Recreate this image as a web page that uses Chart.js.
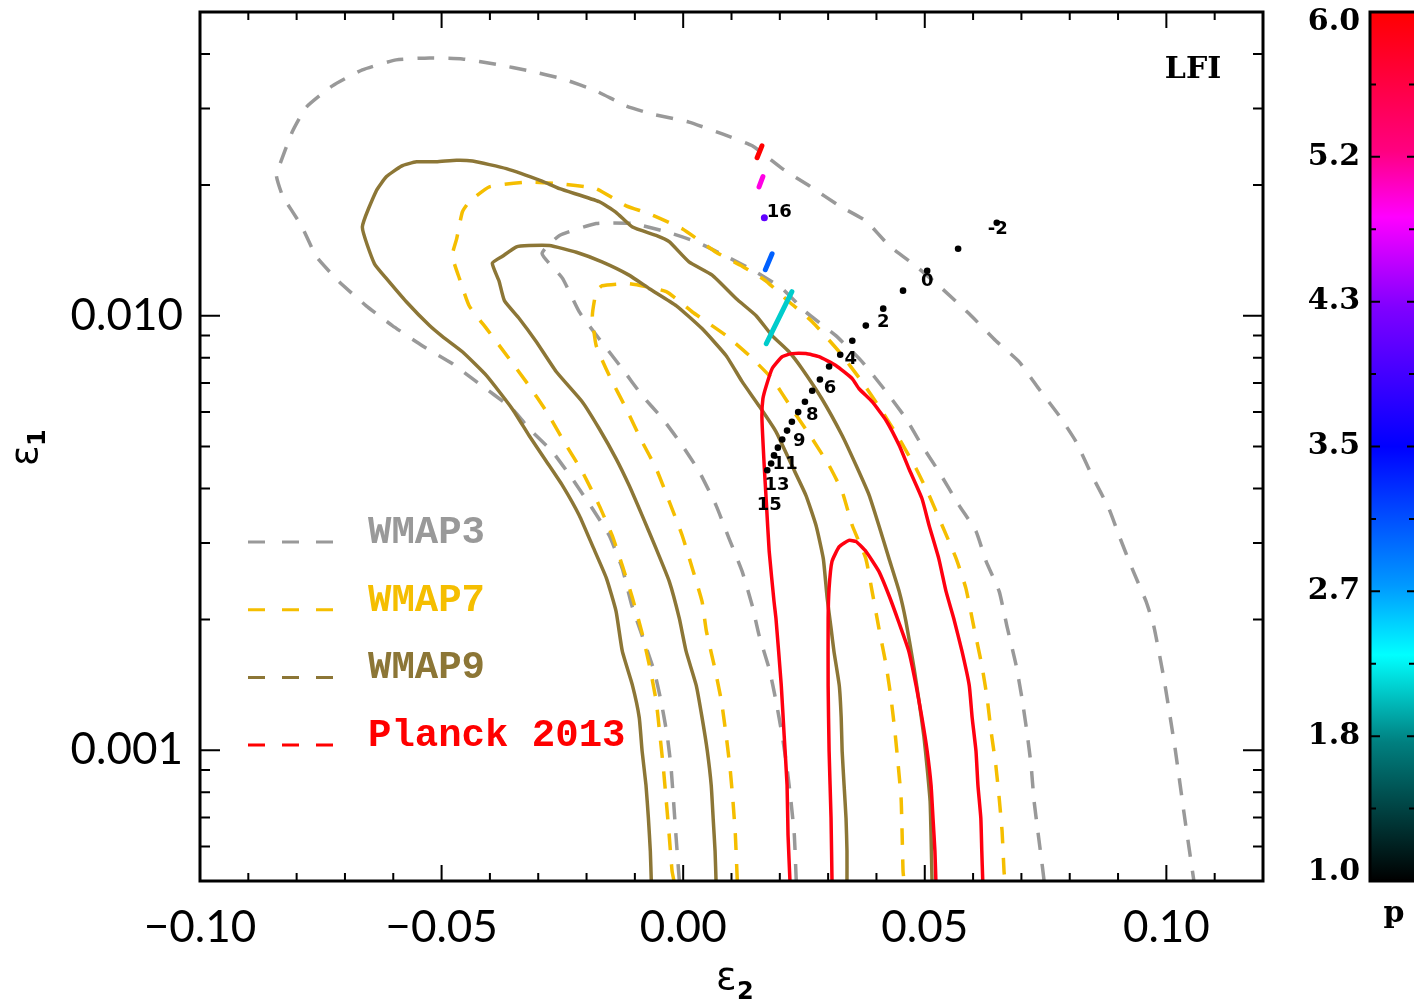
<!DOCTYPE html>
<html>
<head>
<meta charset="utf-8">
<script src="https://cdn.jsdelivr.net/npm/chart.js@4.4.1/dist/chart.umd.min.js"></script>
<style>
  html, body { margin: 0; padding: 0; background: #fff; }
  #wrap { width: 1414px; height: 1002px; }
</style>
</head>
<body>
<div id="wrap"><canvas id="c" width="1414" height="1002"></canvas></div>
<script>
// contour lines, [eps2, eps1]
const wmap3Outer = [[-0.0008,0.0005],[-0.0015,0.000638],[-0.0025,0.000909],[-0.0033,0.00108],[-0.0046,0.0013],[-0.006,0.00152],[-0.0106,0.00215],[-0.0126,0.00262],[-0.0153,0.00312],[-0.0188,0.0036],[-0.023,0.00422],[-0.0271,0.00487],[-0.0319,0.0055],[-0.0354,0.00611],[-0.0428,0.00705],[-0.0478,0.00776],[-0.054,0.00853],[-0.0602,0.00949],[-0.0656,0.01054],[-0.0712,0.01197],[-0.0759,0.01367],[-0.079,0.0161],[-0.0829,0.01887],[-0.0842,0.021],[-0.0836,0.0221],[-0.0809,0.0265],[-0.078,0.0302],[-0.0726,0.0338],[-0.0664,0.0368],[-0.0594,0.0388],[-0.0525,0.0392],[-0.0457,0.039],[-0.0387,0.0379],[-0.0319,0.0366],[-0.025,0.0351],[-0.018,0.0329],[-0.0118,0.0304],[-0.0064,0.0291],[0.0012,0.0279],[0.0081,0.0262],[0.0143,0.0246],[0.0205,0.0218],[0.0261,0.0199],[0.0323,0.0179],[0.0379,0.0165],[0.0426,0.0145],[0.0482,0.013],[0.0536,0.01154],[0.0592,0.0101],[0.0647,0.00876],[0.0695,0.00784],[0.0736,0.00679],[0.0778,0.00589],[0.0813,0.00513],[0.0846,0.00429],[0.0881,0.0036],[0.0902,0.00312],[0.0929,0.00262],[0.0958,0.0022],[0.0974,0.00193],[0.0995,0.00146],[0.1018,0.00101],[0.1038,0.000698],[0.1057,0.0005]];
const wmap3Inner = [[0.0234,0.0005],[0.023,0.000638],[0.0223,0.000764],[0.0215,0.000909],[0.0205,0.00108],[0.0192,0.0013],[0.0178,0.00154],[0.0157,0.00184],[0.0143,0.00215],[0.0122,0.00258],[0.0095,0.00307],[0.0068,0.00366],[0.0033,0.00438],[-0.0002,0.00503],[-0.0043,0.0058],[-0.0085,0.00655],[-0.0126,0.00755],[-0.0174,0.00885],[-0.0215,0.0102],[-0.025,0.0122],[-0.0292,0.0139],[-0.0256,0.0153],[-0.018,0.0163],[-0.0105,0.0163],[-0.0035,0.0156],[0.0027,0.0148],[0.0089,0.0137],[0.0151,0.0126],[0.0205,0.01154],[0.0254,0.0102],[0.0316,0.009],[0.037,0.00784],[0.042,0.00669],[0.0461,0.0058],[0.0494,0.00503],[0.0529,0.00438],[0.0571,0.00366],[0.0606,0.00319],[0.0627,0.00272],[0.0654,0.00232],[0.067,0.00193],[0.0689,0.00157],[0.0701,0.00132],[0.0711,0.00111],[0.072,0.000924],[0.0726,0.000767],[0.0734,0.000651],[0.0743,0.000544],[0.0747,0.0005]];
const wmap7Outer = [[-0.0019,0.0005],[-0.0023,0.000527],[-0.0029,0.000638],[-0.0035,0.000764],[-0.0041,0.000909],[-0.0048,0.00108],[-0.0056,0.0013],[-0.007,0.00157],[-0.0085,0.00186],[-0.0105,0.00224],[-0.0126,0.00266],[-0.0147,0.00312],[-0.0174,0.00366],[-0.0209,0.00438],[-0.0242,0.00503],[-0.0283,0.00602],[-0.0319,0.0069],[-0.036,0.00796],[-0.0407,0.00934],[-0.0443,0.01054],[-0.0463,0.01217],[-0.0478,0.01374],[-0.0469,0.015],[-0.0457,0.01734],[-0.0443,0.01828],[-0.0401,0.0198],[-0.0325,0.0203],[-0.025,0.0201],[-0.018,0.0196],[-0.0118,0.0179],[-0.007,0.01716],[-0.0002,0.01585],[0.0068,0.014],[0.0122,0.013],[0.0172,0.012],[0.0219,0.01077],[0.0267,0.00969],[0.0323,0.00826],[0.037,0.00705],[0.0412,0.00602],[0.0447,0.00521],[0.0482,0.00445],[0.0509,0.00386],[0.0536,0.00329],[0.0565,0.00276],[0.0585,0.00236],[0.0602,0.00191],[0.0618,0.00157],[0.0629,0.00132],[0.0637,0.00111],[0.0647,0.000924],[0.0654,0.000776],[0.066,0.000651],[0.0664,0.000527],[0.0666,0.0005]];
const wmap7Inner = [[0.0112,0.0005],[0.0108,0.000638],[0.0103,0.000764],[0.0097,0.000909],[0.0089,0.00108],[0.0079,0.0013],[0.0064,0.00157],[0.0048,0.00188],[0.0039,0.0022],[0.0019,0.00262],[-0.0002,0.00312],[-0.0029,0.00374],[-0.0056,0.00445],[-0.0085,0.00513],[-0.0118,0.00611],[-0.0153,0.00728],[-0.018,0.00853],[-0.0188,0.01],[-0.018,0.01136],[-0.0168,0.01172],[-0.0112,0.01185],[-0.0035,0.01136],[0.0019,0.0102],[0.0089,0.009],[0.0137,0.00809],[0.0184,0.00716],[0.0225,0.00611],[0.0267,0.00521],[0.0302,0.00452],[0.0329,0.00394],[0.035,0.00329],[0.0378,0.00276],[0.0391,0.00232],[0.0405,0.00191],[0.042,0.00157],[0.043,0.00132],[0.0438,0.00111],[0.0445,0.000924],[0.0451,0.000776],[0.0453,0.000651],[0.0455,0.000527],[0.0457,0.0005]];
const wmap9Outer = [[-0.0066,0.0005],[-0.0068,0.000586],[-0.0072,0.000698],[-0.0077,0.000831],[-0.0085,0.000995],[-0.0091,0.00119],[-0.0105,0.00141],[-0.0126,0.00169],[-0.0139,0.00209],[-0.0159,0.00249],[-0.0188,0.00296],[-0.0215,0.00347],[-0.025,0.00407],[-0.0283,0.00462],[-0.0319,0.0053],[-0.0354,0.00611],[-0.0407,0.00728],[-0.0457,0.00826],[-0.0498,0.00895],[-0.0525,0.00949],[-0.0573,0.01077],[-0.0614,0.01217],[-0.0639,0.01317],[-0.0664,0.016],[-0.0635,0.0194],[-0.0614,0.0209],[-0.0583,0.0221],[-0.0552,0.0226],[-0.0511,0.0226],[-0.0469,0.0228],[-0.0436,0.0227],[-0.0366,0.0218],[-0.0292,0.0204],[-0.0256,0.0196],[-0.0174,0.0183],[-0.0139,0.0173],[-0.0105,0.016],[-0.0056,0.0153],[-0.0029,0.0148],[0.0012,0.0133],[0.006,0.0124],[0.011,0.01094],[0.0151,0.01],[0.0184,0.009],[0.0219,0.00826],[0.0246,0.00755],[0.0287,0.00644],[0.0329,0.0053],[0.0358,0.00452],[0.0385,0.00386],[0.0405,0.00329],[0.0426,0.00276],[0.0447,0.00232],[0.0461,0.00198],[0.0478,0.00154],[0.0488,0.0013],[0.0498,0.00108],[0.0505,0.000909],[0.0511,0.000764],[0.0513,0.000638],[0.0515,0.0005]];
const wmap9Inner = [[0.0068,0.0005],[0.0066,0.000586],[0.0062,0.000698],[0.0058,0.000831],[0.005,0.000995],[0.0039,0.00119],[0.0027,0.00141],[0.0006,0.00169],[-0.0008,0.00201],[-0.0029,0.00245],[-0.0056,0.00291],[-0.0085,0.00347],[-0.0112,0.00407],[-0.0139,0.00469],[-0.0174,0.0055],[-0.0209,0.00634],[-0.0263,0.00744],[-0.0304,0.00871],[-0.0339,0.00984],[-0.037,0.01083],[-0.0381,0.012],[-0.0395,0.0132],[-0.0374,0.0137],[-0.0345,0.0144],[-0.0319,0.0145],[-0.0277,0.0145],[-0.0221,0.014],[-0.0168,0.0133],[-0.0112,0.0124],[-0.007,0.01154],[-0.0014,0.01054],[0.0039,0.00934],[0.0089,0.00809],[0.0122,0.00705],[0.0157,0.0062],[0.0192,0.00541],[0.0225,0.00452],[0.0254,0.00386],[0.0275,0.00329],[0.029,0.00276],[0.0298,0.00224],[0.0306,0.00191],[0.0312,0.00169],[0.0323,0.00141],[0.0327,0.00119],[0.0329,0.000995],[0.0333,0.000831],[0.0337,0.000698],[0.0339,0.000586],[0.0339,0.0005]];
const planckOuter = [[0.0221,0.0005],[0.0217,0.000638],[0.0215,0.000831],[0.0209,0.00108],[0.0203,0.00141],[0.0192,0.00201],[0.0188,0.0022],[0.0178,0.00287],[0.0172,0.00374],[0.0168,0.00445],[0.0163,0.0058],[0.0165,0.00644],[0.0172,0.0069],[0.0184,0.00755],[0.0205,0.00805],[0.0225,0.00818],[0.0254,0.00818],[0.0281,0.00805],[0.0316,0.00768],[0.035,0.00716],[0.0364,0.00679],[0.0391,0.00634],[0.042,0.00574],[0.0447,0.00503],[0.0467,0.00445],[0.0494,0.0038],[0.0509,0.00329],[0.0529,0.00276],[0.0544,0.00232],[0.056,0.00201],[0.0577,0.00169],[0.0592,0.00141],[0.0598,0.00119],[0.0606,0.000995],[0.061,0.000831],[0.0616,0.000698],[0.0618,0.000586],[0.062,0.0005]];
const planckInner = [[0.0308,0.0005],[0.0306,0.000698],[0.0302,0.000995],[0.03,0.00141],[0.03,0.00201],[0.0302,0.00236],[0.0308,0.00272],[0.0323,0.00294],[0.0343,0.00304],[0.0358,0.00302],[0.0378,0.00287],[0.0405,0.00258],[0.0426,0.00227],[0.0447,0.00196],[0.0467,0.00169],[0.0482,0.00141],[0.0494,0.00119],[0.0505,0.000995],[0.0513,0.000831],[0.0517,0.000698],[0.0521,0.000586],[0.0523,0.0005]];

// black model points and their labels
const seqX = [0.0649,0.0569,0.0505,0.0455,0.0414,0.0378,0.035,0.0325,0.0302,0.0283,0.0267,0.0252,0.0238,0.0225,0.0215,0.0205,0.0196,0.0188,0.0182,0.0174];
const seqY = [0.01636,0.01426,0.01269,0.01142,0.01038,0.00949,0.00876,0.00813,0.00764,0.00713,0.00672,0.00634,0.006,0.0057,0.00544,0.00519,0.00497,0.00477,0.00457,0.00441];
const seqLabels = ['-2','0','2','4','6','8','9','11','13','15','16'];
const seqLabelX = [0.0651,0.0505,0.0414,0.0347,0.0304,0.0267,0.024,0.0211,0.0194,0.0178,0.0199];
const seqLabelY = [0.01577,0.01197,0.00964,0.00792,0.00679,0.00589,0.00513,0.00455,0.00407,0.00366,0.01725];

// coloured tracks, one per p
const pValues = [6.0, 4.9, 4.1, 3.0, 2.1];
const pSegX = [[0.0153,0.0163],[0.0157,0.0165],[0.0168],[0.017,0.0184],[0.0172,0.0225]];
const pSegY = [[0.0231,0.0246],[0.0198,0.0209],[0.0168],[0.01276,0.01388],[0.00862,0.01136]];

// colour table for p
const cmapP = [1.0, 1.8, 2.3, 2.7, 3.5, 4.3, 4.82, 5.2, 6.0];
const cmapRGB = [[0,0,0],[0,128,128],[0,255,255],[0,153,255],[0,0,255],[128,0,255],[255,0,255],[255,0,128],[255,0,0]];
const cbarTicks = [1.0, 1.8333, 2.6667, 3.5, 4.3333, 5.1667, 6.0];
const cbarText = ['1.0','1.8','2.7','3.5','4.3','5.2','6.0'];

// axes
const xLabelTicks = [-0.10, -0.05, 0.0, 0.05, 0.10];
const xTickText = ['\u22120.10', '\u22120.05', '0.00', '0.05', '0.10'];
const xMinorTicks = [-0.09,-0.08,-0.07,-0.06,-0.04,-0.03,-0.02,-0.01,0.01,0.02,0.03,0.04,0.06,0.07,0.08,0.09,0.11];
const yLabelTicks = [0.001, 0.01];
const yTickText = ['0.001', '0.010'];
const yMinorTicks = [0.0006,0.0007,0.0008,0.0009,0.002,0.003,0.004,0.005,0.006,0.007,0.008,0.009,0.02,0.03,0.04];

const legendNames = ['WMAP3', 'WMAP7', 'WMAP9', 'Planck 2013'];
const legendColors = ['#999999', '#f5be00', '#8c7636', '#ff0000'];

function pColor(p) {
  for (var i = 0; i < cmapP.length - 1; i++) {
    if (p <= cmapP[i + 1]) {
      var t = (p - cmapP[i]) / (cmapP[i + 1] - cmapP[i]);
      var a = cmapRGB[i], b = cmapRGB[i + 1];
      return 'rgb(' + [0, 1, 2].map(k => Math.round(a[k] + (b[k] - a[k]) * t)).join(',') + ')';
    }
  }
  return 'rgb(' + cmapRGB[cmapRGB.length - 1].join(',') + ')';
}

function toPts(arr) { return arr.map(p => ({x: p[0], y: p[1]})); }

function contour(data, color, dashed) {
  return {
    data: toPts(data), showLine: true, pointRadius: 0, borderColor: color,
    borderWidth: 3.5, borderDash: dashed ? [17, 14] : [], tension: 0.15, fill: false
  };
}

var datasets = [];
datasets.push({
  data: seqX.map((x, i) => ({x: x, y: seqY[i]})), showLine: false,
  pointRadius: 3.3, pointBackgroundColor: '#000', pointBorderWidth: 0
});
pValues.forEach((p, i) => {
  datasets.push({
    data: pSegX[i].map((x, j) => ({x: x, y: pSegY[i][j]})), showLine: true,
    borderColor: pColor(p), borderWidth: 5, borderCapStyle: 'round',
    pointRadius: pSegX[i].length == 1 ? 3.5 : 0, pointBackgroundColor: pColor(p), pointBorderWidth: 0
  });
});
datasets.push(contour(planckInner, '#ff0010', false));
datasets.push(contour(planckOuter, '#ff0010', false));
datasets.push(contour(wmap9Inner, '#8c7636', false));
datasets.push(contour(wmap9Outer, '#8c7636', false));
datasets.push(contour(wmap7Inner, '#f5be00', true));
datasets.push(contour(wmap7Outer, '#f5be00', true));
datasets.push(contour(wmap3Inner, '#999999', true));
datasets.push(contour(wmap3Outer, '#999999', true));

const framePlugin = {
  id: 'frame',
  afterDraw(chart) {
    var ctx = chart.ctx, a = chart.chartArea;
    var xs = chart.scales.x, ys = chart.scales.y;
    ctx.save();

    // box and inward ticks on all four sides
    ctx.strokeStyle = '#000';
    ctx.lineWidth = 2;
    ctx.beginPath();
    function xt(v, len) {
      var px = xs.getPixelForValue(v);
      ctx.moveTo(px, a.bottom); ctx.lineTo(px, a.bottom - len);
      ctx.moveTo(px, a.top); ctx.lineTo(px, a.top + len);
    }
    function yt(v, len) {
      var py = ys.getPixelForValue(v);
      ctx.moveTo(a.left, py); ctx.lineTo(a.left + len, py);
      ctx.moveTo(a.right, py); ctx.lineTo(a.right - len, py);
    }
    xLabelTicks.forEach(v => xt(v, 16));
    xMinorTicks.forEach(v => xt(v, 8));
    yLabelTicks.forEach(v => yt(v, 20));
    yMinorTicks.forEach(v => yt(v, 10));
    ctx.stroke();
    ctx.lineWidth = 3;
    ctx.strokeRect(a.left, a.top, a.right - a.left, a.bottom - a.top);

    // labels of the model points
    ctx.fillStyle = '#000';
    ctx.font = 'bold 18px "DejaVu Sans"';
    ctx.textAlign = 'center';
    ctx.textBaseline = 'middle';
    seqLabels.forEach((t, i) => {
      ctx.fillText(t, xs.getPixelForValue(seqLabelX[i]), ys.getPixelForValue(seqLabelY[i]));
    });

    // LFI tag
    ctx.font = 'bold 30px "DejaVu Serif"';
    ctx.fillText('LFI', a.right - 70, a.top + 58);

    // legend
    legendNames.forEach((name, i) => {
      var y = 542 + i * 67.7;
      ctx.strokeStyle = legendColors[i];
      ctx.lineWidth = 3;
      ctx.setLineDash([17, 17]);
      ctx.beginPath();
      ctx.moveTo(248, y); ctx.lineTo(335, y);
      ctx.stroke();
      ctx.setLineDash([]);
      ctx.fillStyle = legendColors[i];
      ctx.font = 'bold 39px "Liberation Mono"';
      ctx.textAlign = 'left';
      ctx.fillText(name, 368, y - 9);
    });

    // axis titles
    ctx.fillStyle = '#000';
    ctx.textAlign = 'left';
    ctx.textBaseline = 'alphabetic';
    ctx.font = '38px "DejaVu Sans"';
    ctx.fillText('\u03b5', 716, 989);
    ctx.font = 'bold 24px "DejaVu Sans"';
    ctx.fillText('2', 737, 999);
    ctx.save();
    ctx.translate(37, 466);
    ctx.rotate(-Math.PI / 2);
    ctx.font = '38px "DejaVu Sans"';
    ctx.fillText('\u03b5', 0, 0);
    ctx.font = 'bold 24px "DejaVu Sans"';
    ctx.fillText('1', 20, 8);
    ctx.restore();

    // colour bar for p
    var bl = 1370, br = 1420;
    var cy = p => a.bottom - (p - 1) / 5 * (a.bottom - a.top);
    var g = ctx.createLinearGradient(0, a.bottom, 0, a.top);
    cmapP.forEach((p, i) => g.addColorStop((p - 1) / 5, 'rgb(' + cmapRGB[i].join(',') + ')'));
    ctx.fillStyle = g;
    ctx.fillRect(bl, a.top, br - bl, a.bottom - a.top);
    ctx.strokeStyle = '#000';
    ctx.lineWidth = 3;
    ctx.strokeRect(bl, a.top, br - bl, a.bottom - a.top);
    ctx.lineWidth = 2;
    ctx.beginPath();
    for (var k = 0; k < cbarTicks.length; k++) {
      var py = cy(cbarTicks[k]);
      ctx.moveTo(bl, py); ctx.lineTo(bl + 10, py);
      ctx.moveTo(1414, py); ctx.lineTo(1407, py);
      if (k < cbarTicks.length - 1) {
        var pm = cy((cbarTicks[k] + cbarTicks[k + 1]) / 2);
        ctx.moveTo(bl, pm); ctx.lineTo(bl + 6, pm);
        ctx.moveTo(1414, pm); ctx.lineTo(1409, pm);
      }
    }
    ctx.stroke();
    ctx.fillStyle = '#000';
    ctx.font = 'bold 30px "DejaVu Serif"';
    ctx.textAlign = 'right';
    ctx.textBaseline = 'middle';
    cbarText.forEach((t, k) => {
      var py = Math.min(Math.max(cy(cbarTicks[k]), a.top + 10), a.bottom - 9);
      ctx.fillText(t, 1360, py);
    });
    ctx.textAlign = 'center';
    ctx.fillText('p', 1394, 914);
    ctx.restore();
  }
};

new Chart(document.getElementById('c'), {
  type: 'scatter',
  data: { datasets: datasets },
  options: {
    responsive: false,
    animation: false,
    layout: { padding: { left: 0, right: 151, top: 12, bottom: 0 } },
    plugins: { legend: { display: false }, tooltip: { enabled: false } },
    scales: {
      x: {
        type: 'linear', min: -0.10, max: 0.12,
        grid: { display: false, drawTicks: false },
        border: { display: false },
        afterBuildTicks: s => { s.ticks = xLabelTicks.map(v => ({value: v})); },
        afterFit: s => { s.height = 121; s.paddingLeft = 0; s.paddingRight = 0; },
        ticks: {
          autoSkip: false, maxRotation: 0, padding: 20, color: '#000',
          font: { family: 'Lato', size: 44 },
          callback: (v, i) => xTickText[i]
        }
      },
      y: {
        type: 'logarithmic', min: 0.0005, max: 0.05,
        grid: { display: false, drawTicks: false },
        border: { display: false },
        afterBuildTicks: s => { s.ticks = yLabelTicks.map(v => ({value: v})); },
        afterFit: s => { s.width = 200; s.paddingTop = 0; s.paddingBottom = 0; },
        ticks: {
          autoSkip: false, padding: 17, color: '#000',
          font: { family: 'Lato', size: 44 },
          callback: (v, i) => yTickText[i]
        }
      }
    }
  },
  plugins: [framePlugin]
});
</script>
</body>
</html>
